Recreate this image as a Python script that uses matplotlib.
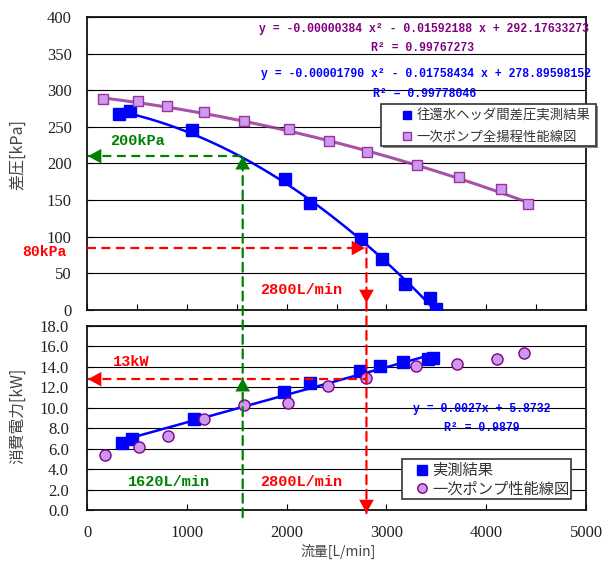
import matplotlib
matplotlib.use('Agg')
import matplotlib.pyplot as plt
from matplotlib.patches import ConnectionPatch, Rectangle
import numpy as np

# ── Data ──────────────────────────────────────────────────────────────────────
flow_head_meas = [324, 432, 1054, 1981, 2236, 2744, 2958, 3189, 3434, 3497]
head_meas      = [267, 271, 246, 179, 146, 96.5, 69, 35.5, 16, 2]

flow_head_pump = [164, 515, 800, 1171, 1570, 2021, 2423, 2808, 3307, 3725, 4153, 4415]
head_pump      = [287.6, 285, 279, 270, 258, 247, 231, 215, 197.5, 181.6, 165.6, 145]

flow_pow_meas = [348, 449, 1068, 1975, 2236, 2734, 2939, 3166, 3414, 3464]
pow_meas      = [6.58, 6.9, 8.9, 11.55, 12.4, 13.6, 14.05, 14.5, 14.75, 14.9]

flow_pow_pump = [184, 525, 810, 1171, 1570, 2015, 2416, 2795, 3293, 3708, 4113, 4381]
pow_pump      = [5.35, 6.2, 7.27, 8.9, 10.3, 10.47, 12.13, 12.88, 14.06, 14.29, 14.77, 15.4]

# trendline coefficients as printed on the chart
coef_head_meas = [-0.00001790, -0.01758434, 278.89598152]
coef_head_pump = [-0.00000384, -0.01592188, 292.17633273]
coef_pow_meas  = [0.0027, 5.8732]

eq_head_pump = ['y = -0.00000384 x\u00b2 - 0.01592188 x + 292.17633273', 'R\u00b2 = 0.99767273']
eq_head_meas = ['y = -0.00001790 x\u00b2 - 0.01758434 x + 278.89598152', 'R\u00b2 = 0.99778046']
eq_pow_meas  = ['y = 0.0027x + 5.8732', 'R\u00b2 = 0.9879']

leg_top = ['往還水ヘッダ間差圧実測結果', '一次ポンプ全揚程性能線図']
leg_bot = ['実測結果', '一次ポンプ性能線図']

# reading guides (flow, head, power)
q_design, q_rated = 1560, 2800
h_design, h_rated = 210, 84.6
p_rated, p_design_tip = 12.8, 12.9

# ── Style ─────────────────────────────────────────────────────────────────────
BLUE = '#0000FF'
PURP_FILL = '#CC99F0'
PURP_EDGE = '#993399'
PURP_TEXT = '#800080'
RED = '#FF0000'
GREEN = '#008000'
MONO = 'Liberation Mono'
CJK = ['Noto Sans CJK JP', 'DejaVu Sans']
DASH = (0, (4, 2.5))

plt.rcParams['font.family'] = ['Liberation Serif', 'DejaVu Sans']  # tick numbers

fig = plt.figure(figsize=(6.11, 5.62), dpi=100)
ax1 = fig.add_axes([0.1424, 0.4484, 0.8167, 0.5214])
ax2 = fig.add_axes([0.1424, 0.0925, 0.8167, 0.3274])

for ax in (ax1, ax2):
    ax.set_xlim(0, 5000)
    for s in ax.spines.values():
        s.set_linewidth(1.3)
        s.set_color('#111111')
    ax.grid(True, axis='y', color='black', linewidth=0.8, zorder=0)
    ax.set_axisbelow(True)

# ── Top: pressure difference ─────────────────────────────────────────────────
ax1.set_ylim(0, 400)
ax1.set_yticks(np.arange(0, 401, 50))
ax1.set_xticks(np.arange(0, 5001, 500))
ax1.tick_params(axis='x', direction='in', length=4, labelbottom=False)
ax1.tick_params(axis='y', direction='in', length=4, labelsize=12, pad=11,
                labelcolor='#222222')

xs = np.linspace(flow_head_pump[0], flow_head_pump[-1], 200)
ax1.plot(xs, np.polyval(coef_head_pump, xs), color=PURP_EDGE, lw=2.2, alpha=0.85, zorder=3)
xs = np.linspace(flow_head_meas[1], flow_head_meas[-1], 200)
ax1.plot(xs, np.polyval(coef_head_meas, xs), color=BLUE, lw=1.8, zorder=3)

h1, = ax1.plot(flow_head_meas, head_meas, 's', color=BLUE, ms=8.5, mec=BLUE, zorder=4)
h2, = ax1.plot(flow_head_pump, head_pump, 's', mfc=PURP_FILL, mec=PURP_EDGE, mew=1,
               ms=7.5, zorder=4)

eq_kw = dict(fontsize=8.3, family=MONO, weight='bold', ha='center', va='center')
ax1.text(3372, 383.6, eq_head_pump[0], color=PURP_TEXT, **eq_kw)
ax1.text(3361, 358, eq_head_pump[1], color=PURP_TEXT, **eq_kw)
ax1.text(3395, 322, eq_head_meas[0], color=BLUE, **eq_kw)
ax1.text(3385, 295, eq_head_meas[1], color=BLUE, **eq_kw)

# legend frame drawn by hand (padding differs left/right in the original)
ax1.add_patch(Rectangle((0.593, 0.553), 0.431, 0.143, transform=ax1.transAxes,
                        facecolor='#888888', edgecolor='none', clip_on=False, zorder=6))
ax1.add_patch(Rectangle((0.589, 0.560), 0.431, 0.143, transform=ax1.transAxes,
                        facecolor='white', edgecolor='#333333', lw=1.2, clip_on=False,
                        zorder=6))
leg = ax1.legend([h1, h2], leg_top, loc='center left', bbox_to_anchor=(0.631, 0.627),
                 borderaxespad=0, borderpad=0, frameon=False, handlelength=0.8,
                 handletextpad=0.3, labelspacing=0.5, markerscale=0.75,
                 prop={'family': CJK, 'size': 9.6})
for t in leg.get_texts():
    t.set_color('#333333')
leg.set_zorder(7)

ax1.set_ylabel('差圧[kPa]', family=CJK, fontsize=11.5, color='#444444')
ax1.yaxis.set_label_coords(-0.122, 0.53)

# ── Bottom: power ─────────────────────────────────────────────────────────────
ax2.set_ylim(0, 18)
ax2.set_yticks(np.arange(0, 18.1, 2))
ax2.set_yticklabels([f'{v:.1f}' for v in np.arange(0, 18.1, 2)])
ax2.set_xticks(np.arange(0, 5001, 1000))
ax2.tick_params(axis='both', direction='in', length=4, labelsize=12,
                labelcolor='#222222')
ax2.tick_params(axis='y', pad=13)
ax2.tick_params(axis='x', pad=11)

xs = np.linspace(flow_pow_meas[1], flow_pow_meas[-1], 50)
ax2.plot(xs, np.polyval(coef_pow_meas, xs), color=BLUE, lw=1.8, zorder=3)
g1, = ax2.plot(flow_pow_meas, pow_meas, 's', color=BLUE, ms=8.5, zorder=4)
g2, = ax2.plot(flow_pow_pump, pow_pump, 'o', mfc=PURP_FILL, mec=PURP_TEXT, mew=1,
               ms=8, zorder=4)

ax2.text(3955, 9.85, eq_pow_meas[0], color=BLUE, **eq_kw)
ax2.text(3955, 8.0, eq_pow_meas[1], color=BLUE, **eq_kw)

ax2.add_patch(Rectangle((0.631, 0.060), 0.3387, 0.217, transform=ax2.transAxes,
                        facecolor='white', edgecolor='#333333', lw=1.2, clip_on=False,
                        zorder=6))
leg2 = ax2.legend([g1, g2], leg_bot, loc='center left', bbox_to_anchor=(0.6585, 0.163),
                  borderaxespad=0, borderpad=0, frameon=False, handlelength=0.8,
                  handletextpad=0.3, labelspacing=0.1, markerscale=0.85,
                  prop={'family': CJK, 'size': 11})
for t in leg2.get_texts():
    t.set_color('#333333')
leg2.set_zorder(7)

ax2.set_ylabel('消費電力[kW]', family=CJK, fontsize=11.3, color='#444444')
ax2.yaxis.set_label_coords(-0.122, 0.51)
ax2.set_xlabel('流量[L/min]', family=CJK, fontsize=10, color='#444444')
ax2.xaxis.set_label_coords(0.503, -0.185)


# ── Reading guides ────────────────────────────────────────────────────────────
def head(ax, tip, frm, color):
    ax.annotate('', xy=tip, xytext=frm, annotation_clip=False,
                arrowprops=dict(arrowstyle='-|>,head_length=0.4,head_width=0.22',
                                mutation_scale=24, color=color, lw=0,
                                shrinkA=0, shrinkB=0, clip_on=False), zorder=7)


def dash(ax, x, y, color):
    ax.plot(x, y, color=color, lw=1.6, linestyle=DASH, zorder=5, clip_on=False)


# top
dash(ax1, [10, q_design], [h_design, h_design], GREEN)
head(ax1, (10, h_design), (q_design, h_design), GREEN)
head(ax1, (q_design, h_design), (q_design, 0), GREEN)
dash(ax1, [0, q_rated - 40], [h_rated, h_rated], RED)
head(ax1, (q_rated - 14, h_rated), (0, h_rated), RED)
head(ax1, (q_rated, 9.5), (q_rated, h_rated), RED)

# bottom
dash(ax2, [10, q_rated], [p_rated, p_rated], RED)
head(ax2, (10, p_rated), (q_rated, p_rated), RED)
head(ax2, (q_design, p_design_tip), (q_design, 0), GREEN)
head(ax2, (q_rated, -0.3), (q_rated, 10), RED)

# lines crossing both axes
for x, yA, yB, c in [(q_design, -0.7, h_design, GREEN), (q_rated, -0.3, h_rated, RED)]:
    cp = ConnectionPatch(xyA=(x, yA), coordsA=ax2.transData, xyB=(x, yB),
                         coordsB=ax1.transData, color=c, lw=1.6, linestyle=DASH,
                         zorder=5)
    fig.add_artist(cp)

lab_kw = dict(family=MONO, weight='bold', fontsize=11, va='center')
ax1.text(230, 231, '200kPa', color=GREEN, ha='left', **lab_kw)
ax1.text(-200, 78.5, '80kPa', color=RED, ha='right', clip_on=False,
         family=MONO, weight='bold', fontsize=10.6, va='center')
ax1.text(2150, 27.5, '2800L/min', color=RED, ha='center', **lab_kw)
ax2.text(260, 14.5, '13kW', color=RED, ha='left', **lab_kw)
ax2.text(820, 2.7, '1620L/min', color=GREEN, ha='center', **lab_kw)
ax2.text(2150, 2.7, '2800L/min', color=RED, ha='center', **lab_kw)

fig.savefig('out.png', dpi=100)
